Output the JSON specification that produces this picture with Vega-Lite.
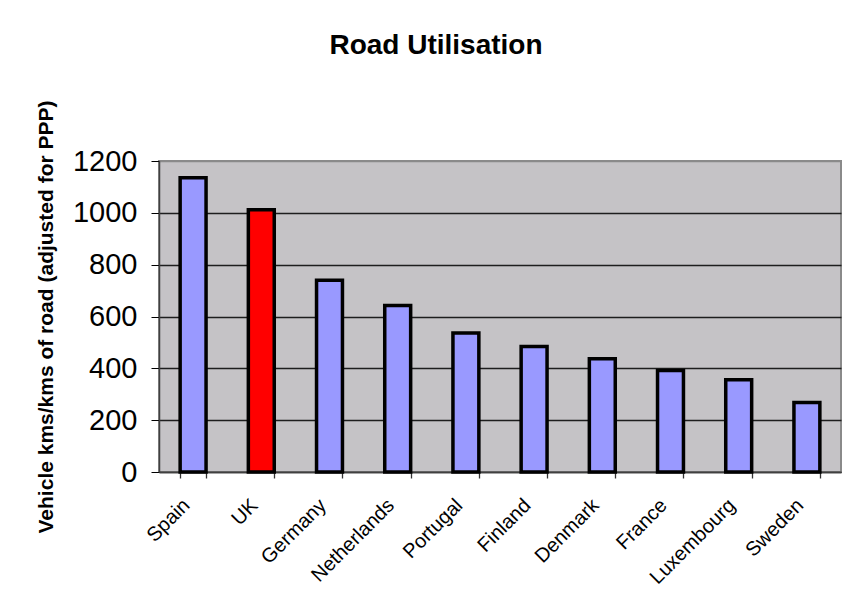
{
  "$schema": "https://vega.github.io/schema/vega-lite/v6.json",
  "autosize": {"type": "none"},
  "padding": {"left": 159, "top": 161, "right": 10, "bottom": 132},
  "width": 682,
  "height": 311,
  "background": "white",
  "title": {
    "text": "Road Utilisation",
    "font": "Liberation Sans",
    "fontSize": 28,
    "fontWeight": "bold",
    "color": "#000",
    "anchor": "middle",
    "frame": "group",
    "dx": -64,
    "offset": 40
  },
  "data": {
    "values": [
      {"country": "Spain", "value": 1135},
      {"country": "UK", "value": 1012},
      {"country": "Germany", "value": 740},
      {"country": "Netherlands", "value": 642},
      {"country": "Portugal", "value": 536},
      {"country": "Finland", "value": 484},
      {"country": "Denmark", "value": 437},
      {"country": "France", "value": 392},
      {"country": "Luxembourg", "value": 356},
      {"country": "Sweden", "value": 268}
    ]
  },
  "mark": {"type": "bar", "stroke": "#000", "strokeWidth": 3.5},
  "encoding": {
    "x": {
      "field": "country",
      "type": "nominal",
      "sort": null,
      "scale": {"paddingInner": 0.62, "paddingOuter": 0.31},
      "axis": {
        "title": null,
        "ticks": true,
        "tickBand": "extent",
        "tickSize": 6,
        "tickColor": "#333",
        "tickWidth": 1.3,
        "labelAngle": -45,
        "labelAlign": "right",
        "labelBaseline": "middle",
        "labelFont": "Liberation Sans",
        "labelFontSize": 20,
        "labelColor": "#000",
        "labelPadding": 24,
        "labelOffset": -7,
        "domainColor": "#404040",
        "domainWidth": 1.5,
        "grid": false
      }
    },
    "y": {
      "field": "value",
      "type": "quantitative",
      "scale": {"domain": [0, 1200], "nice": false, "zero": true},
      "axis": {
        "values": [0, 200, 400, 600, 800, 1000, 1200],
        "format": "d",
        "title": "Vehicle kms/kms of road (adjusted for PPP)",
        "titleFont": "Liberation Sans",
        "titleFontSize": 21,
        "titleFontWeight": "bold",
        "titleColor": "#000",
        "titlePadding": 16,
        "labelFont": "Liberation Sans",
        "labelFontSize": 29,
        "labelColor": "#000",
        "labelPadding": 14,
        "tickSize": 8,
        "tickColor": "#000",
        "domainColor": "#404040",
        "domainWidth": 1.5,
        "grid": true,
        "gridColor": {"condition": {"test": "datum.value === 1200", "value": "#8a8a8a"}, "value": "#1e1e1e"},
        "gridWidth": 1.3
      }
    },
    "color": {
      "condition": {"test": "datum.country === 'UK'", "value": "#FF0000"},
      "value": "#9999FF"
    }
  },
  "config": {
    "view": {"fill": "#C5C3C6", "stroke": "#8a8a8a", "strokeWidth": 2}
  }
}
